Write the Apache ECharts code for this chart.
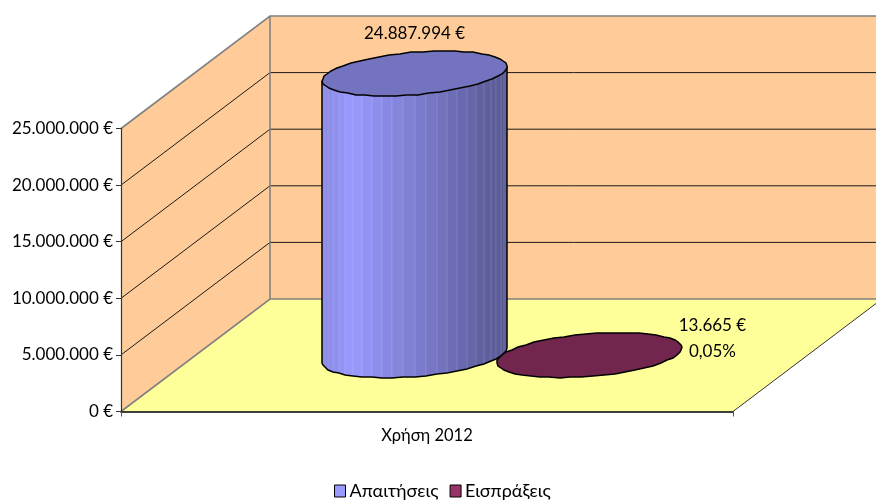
<!DOCTYPE html>
<html>
<head>
<meta charset="utf-8">
<style>html,body{margin:0;padding:0;background:#fff}#chart{width:876px;height:500px}</style>
<script src="https://cdn.jsdelivr.net/npm/echarts@6/dist/echarts.min.js"></script>
</head>
<body>
<div id="chart"></div>
<script>
// Receivables against collections for fiscal year 2012
const categories = ['Χρήση 2012'];
const seriesNames = ['Απαιτήσεις', 'Εισπράξεις'];
const receivables = [24887994];
const collections = [13665];
const shareLabels = [null, '0,05%'];
const yTicks = [0, 5000000, 10000000, 15000000, 20000000, 25000000];

const FONT = 'Lato, "Noto Sans", sans-serif';
const DEPTH_X = 149, DEPTH_Y = 112.5;    // oblique offset of the back wall
const GAP = 1.5;                         // gap between bar groups, in bar widths
const SIDE_STOPS = [[0, 0.88], [0.12, 0.97], [0.17, 1], [0.35, 0.9], [0.6, 0.77], [0.85, 0.64], [1, 0.58]];

function money(v) {
  return String(v).replace(/\B(?=(\d{3})+$)/g, '.') + ' €';
}
function shade(rgb, k) {
  return 'rgb(' + rgb.map(c => Math.round(c * k)).join(',') + ')';
}
function lightAt(f) {
  for (let i = 1; i < SIDE_STOPS.length; i++) {
    const a = SIDE_STOPS[i - 1], b = SIDE_STOPS[i];
    if (f <= b[0]) return a[1] + (b[1] - a[1]) * (f - a[0]) / (b[0] - a[0]);
  }
  return SIDE_STOPS[SIDE_STOPS.length - 1][1];
}

// Walls, floor and the gridlines that run across them
function renderRoom(params, api) {
  const zero = api.coord([0, 0]);
  const top = api.coord([0, yTicks[yTicks.length - 1]]);
  const w = api.size([1, 0])[0];
  const x0 = zero[0] - w / 2, x1 = zero[0] + w / 2, y0 = zero[1], yT = top[1];
  const grey = { stroke: '#808080', lineWidth: 1.6, fill: 'none' };
  const kids = [
    { type: 'polygon', shape: { points: [[x0, y0], [x0 + DEPTH_X, y0 - DEPTH_Y], [x0 + DEPTH_X, yT - DEPTH_Y], [x0, yT]] }, style: { fill: '#FFCC99' } },
    { type: 'rect', shape: { x: x0 + DEPTH_X, y: yT - DEPTH_Y, width: w, height: y0 - yT }, style: { fill: '#FFCC99' } },
    { type: 'polygon', shape: { points: [[x0, y0], [x1, y0], [x1 + DEPTH_X, y0 - DEPTH_Y], [x0 + DEPTH_X, y0 - DEPTH_Y]] }, style: { fill: '#FFFF99' } }
  ];
  yTicks.slice(1, -1).forEach(v => {
    const y = api.coord([0, v])[1];
    const line = { stroke: '#1a1a1a', lineWidth: 1, fill: 'none' };
    kids.push({ type: 'polyline', shape: { points: [[x0, y], [x0 + DEPTH_X, y - DEPTH_Y], [x1 + DEPTH_X, y - DEPTH_Y]] }, style: line });
  });
  kids.push(
    { type: 'polyline', shape: { points: [[x0, y0], [x0 + DEPTH_X, y0 - DEPTH_Y], [x1 + DEPTH_X, y0 - DEPTH_Y]] }, style: grey },
    { type: 'polyline', shape: { points: [[x0, yT], [x0 + DEPTH_X, yT - DEPTH_Y], [x1 + DEPTH_X, yT - DEPTH_Y]] }, style: grey },
    { type: 'line', shape: { x1: x0 + DEPTH_X, y1: y0 - DEPTH_Y, x2: x0 + DEPTH_X, y2: yT - DEPTH_Y }, style: grey },
    { type: 'line', shape: { x1: x1, y1: y0, x2: x1 + DEPTH_X, y2: y0 - DEPTH_Y }, style: { stroke: '#333', lineWidth: 1 } }
  );
  return { type: 'group', children: kids };
}

// One cylinder: its footprint is the ellipse inscribed in the bar's floor cell
function cylinderRenderer(seriesIdx, rgb) {
  return function (params, api) {
    const value = api.value(1);
    const base = api.coord([0, 0]);
    const head = api.coord([0, value]);
    const barW = api.size([1, 0])[0] / (2 + GAP);
    const depthShare = 1 / (1 + GAP);
    const a = barW / 2, bx = DEPTH_X * depthShare / 2, by = DEPTH_Y * depthShare / 2;
    const cx = base[0] + (seriesIdx - 0.5) * barW + DEPTH_X / 2;
    const cyB = base[1] - DEPTH_Y / 2, cyT = head[1] - DEPTH_Y / 2;
    const rim = (t, cy) => [Math.round(cx + 0.5 + a * Math.cos(t) + bx * Math.sin(t)), Math.round(cy - by * Math.sin(t))];
    const t0 = Math.atan2(bx, a);
    const halfW = Math.hypot(a, bx);
    const kids = [];
    const N = 26;
    const front = [];
    for (let i = 0; i <= N; i++) front.push(t0 + Math.PI + i * Math.PI / N);
    if (cyB - cyT > 1) {
      for (let i = 0; i < N; i++) {
        const p = rim(front[i], cyB), q = rim(front[i + 1], cyB);
        const mid = ((p[0] + q[0]) / 2 - (cx - halfW)) / (2 * halfW);
        kids.push({
          type: 'polygon',
          shape: { points: [p, q, rim(front[i + 1], cyT), rim(front[i], cyT)] },
          style: { fill: shade(rgb, lightAt(mid)) }
        });
        // Faint seam where two facets meet
        if (i > 0) {
          kids.push({
            type: 'line',
            shape: { x1: p[0], y1: p[1], x2: p[0], y2: rim(front[i], cyT)[1] },
            style: { stroke: 'rgba(255,255,255,0.14)', lineWidth: 1 }
          });
        }
      }
      kids.push({
        type: 'polyline',
        shape: { points: [rim(front[0], cyT)].concat(front.map(t => rim(t, cyB)), [rim(front[N], cyT)]) },
        style: { stroke: '#000', lineWidth: 1.5, fill: 'none' }
      });
    }
    const ring = [];
    for (let i = 0; i < 2 * N; i++) ring.push(rim(i * Math.PI / N, cyT));
    kids.push({ type: 'polygon', shape: { points: ring }, style: { fill: shade(rgb, 0.75), stroke: '#000', lineWidth: 1.5 } });
    return { type: 'group', children: kids };
  };
}

const chart = echarts.init(document.getElementById('chart'));
chart.setOption({
  animation: false,
  backgroundColor: '#fff',
  grid: { left: 121, right: 143, top: 128.5, bottom: 88.5 },
  xAxis: {
    type: 'category', data: categories,
    axisLine: { lineStyle: { color: '#000', width: 1.5 } },
    axisTick: { show: true, alignWithLabel: false, length: 5, lineStyle: { color: '#555' } },
    axisLabel: { color: '#000', fontFamily: FONT, fontSize: 16.5, margin: 16 },
    z: 10
  },
  yAxis: {
    type: 'value', min: 0, max: 25000000, interval: 5000000,
    splitLine: { show: false },
    axisLine: { show: true, lineStyle: { color: '#333', width: 1.2 } },
    axisTick: { show: true, length: 5, lineStyle: { color: '#333' } },
    axisLabel: { color: '#000', fontFamily: FONT, fontSize: 17, margin: 8, padding: [3, 0, 0, 0], formatter: v => money(v) },
    z: 10
  },
  legend: {
    data: seriesNames, bottom: 0, left: 334, icon: 'rect', padding: 0,
    itemWidth: 11, itemHeight: 12, itemGap: 11,
    itemStyle: { borderColor: '#000', borderWidth: 1 },
    textStyle: { color: '#000', fontFamily: FONT, fontSize: 18, padding: [0, 0, 0, -1] }
  },
  series: [
    { type: 'custom', name: 'room', silent: true, z: 1, data: [[0, 0]], encode: { x: 0, y: 1 }, renderItem: renderRoom },
    {
      type: 'custom', name: seriesNames[0], z: 2, itemStyle: { color: '#9999FF' },
      data: receivables.map((v, i) => [i, v]), encode: { x: 0, y: 1 },
      renderItem: cylinderRenderer(0, [153, 153, 255])
    },
    {
      type: 'custom', name: seriesNames[1], z: 3, itemStyle: { color: '#993366' },
      data: collections.map((v, i) => [i, v]), encode: { x: 0, y: 1 },
      renderItem: cylinderRenderer(1, [153, 51, 102])
    },
    {
      // Value captions above each cylinder's top face
      type: 'custom', name: 'captions', z: 4, silent: true,
      data: [[0, receivables[0], 0], [0, collections[0], 1]], encode: { x: 0, y: 1 },
      renderItem(params, api) {
        const idx = api.value(2), value = api.value(1);
        const head = api.coord([0, value]);
        const barW = api.size([1, 0])[0] / (2 + GAP);
        const cx = head[0] + (idx - 0.5) * barW + DEPTH_X / 2;
        const cy = head[1] - DEPTH_Y / 2;
        const share = shareLabels[idx];
        const dx = share ? 123.5 : 0.5, dy = share ? -43 : -40;
        return {
          type: 'text',
          style: {
            x: cx + dx, y: cy + dy, text: share ? money(value) + '\n' + share : money(value),
            fill: '#000', font: '17px ' + FONT, align: 'center', verticalAlign: share ? 'top' : 'middle',
            lineHeight: 26
          }
        };
      }
    }
  ]
});
</script>
</body>
</html>
